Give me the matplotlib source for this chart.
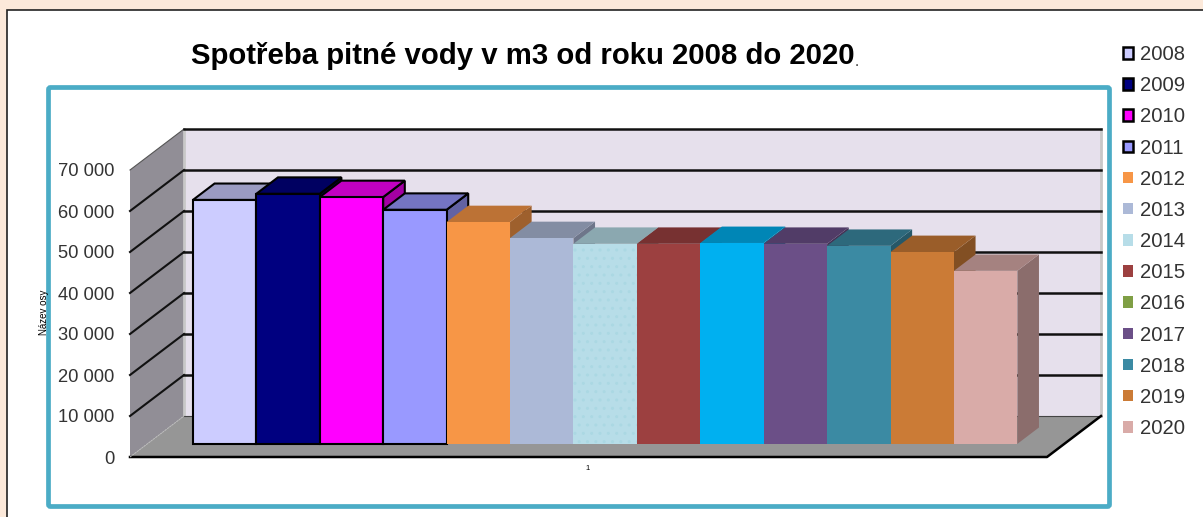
#!/usr/bin/env python3
"""Spotreba pitne vody - fake 3D column chart, old Excel look."""
import matplotlib
matplotlib.use("Agg")
import matplotlib.pyplot as plt
from matplotlib.patches import Polygon, Rectangle, FancyBboxPatch, Patch
from matplotlib.ticker import FuncFormatter

plt.rcParams["font.family"] = ["Liberation Sans", "DejaVu Sans"]

years = ["2008", "2009", "2010", "2011", "2012", "2013", "2014",
         "2015", "2016", "2017", "2018", "2019", "2020"]
values = [59500, 61000, 60200, 57100, 54100, 50200, 48800,
          48800, 49000, 48800, 48300, 46800, 42200]
bar_colors = ["#CCCCFF", "#000080", "#FF00FF", "#9999FF", "#F79646", "#ACB9D7", "#B7DDE8",
              "#9C4040", "#00B0F0", "#6B4F87", "#3B8AA3", "#CB7B36", "#D9ABA8"]
legend_colors = bar_colors[:8] + ["#7F9F45"] + bar_colors[9:]
y_ticks = [0, 10000, 20000, 30000, 40000, 50000, 60000, 70000]

W, H = 1203, 517
PX_PER_BAR = 63.4
DEPTH_X = 54 / PX_PER_BAR   # back wall offset, in bar widths
DEPTH_Y = 10000             # back wall offset, in axis units
FRONT, BACK = 0.32, 0.72    # bar depth inside the box
XMIN, XMAX = -1.22, 13.24


def proj(x, v, d):
    return (x + d * DEPTH_X, v + d * DEPTH_Y)


def shade(color, f):
    r, g, b = matplotlib.colors.to_rgb(color)
    return (r * f, g * f, b * f)


fig = plt.figure(figsize=(W / 100, H / 100), dpi=100, facecolor="#FCE9DA")

# page panel + teal frame, drawn in figure pixels
bg = fig.add_axes([0, 0, 1, 1], zorder=0)
bg.set_xlim(0, W)
bg.set_ylim(H, 0)
bg.axis("off")
bg.add_patch(Rectangle((6.5, 9.5), W + 20, H, fc="white", ec="#222222", lw=1.2))
bg.add_patch(FancyBboxPatch((48.5, 87.5), 1061, 419, boxstyle="round,pad=0,rounding_size=2",
                            fc="white", ec="#4BACC6", lw=3.4))

ax = fig.add_axes([130 / W, (H - 457) / H, 917 / W, 287 / H], zorder=1)
ax.set_xlim(XMIN, XMAX)
ax.set_ylim(0, 70000)
ax.patch.set_visible(False)
for s in ax.spines.values():
    s.set_visible(False)
ax.set_xticks([])
ax.set_yticks(y_ticks)
ax.yaxis.set_major_formatter(FuncFormatter(lambda v, _: f"{int(v):,}".replace(",", " ")))
ax.tick_params(axis="y", length=0, pad=11.5, labelsize=13.2, labelcolor="#333333")


def face(pts, **kw):
    ax.add_patch(Polygon(pts, closed=True, clip_on=False, **kw))


# box: back wall, side wall, floor
face([proj(XMIN, 0, 1), proj(XMAX, 0, 1), proj(XMAX, 70000, 1), proj(XMIN, 70000, 1)],
     fc="#E6E0EC", ec="none", zorder=1)
face([proj(XMIN, 0, 0), proj(XMIN, 0, 1), proj(XMIN, 70000, 1), proj(XMIN, 70000, 0)],
     fc="#918E96", ec="none", zorder=1)
face([proj(XMIN, 0, 0), proj(XMAX, 0, 0), proj(XMAX, 0, 1), proj(XMIN, 0, 1)],
     fc="#969696", ec="none", zorder=1.2)

# light strips at both ends of the back wall
for xe in (XMIN, XMAX):
    ax.plot(*zip(proj(xe, 0, 1), proj(xe, 70000, 1)), color="#C8C8C8", lw=2, clip_on=False, zorder=1.1)
ax.plot(*zip(proj(XMIN, 0, 1), proj(XMAX, 0, 1)), color="#444444", lw=0.8, clip_on=False, zorder=1.3)

# gridlines run across side wall and back wall
for v in y_ticks[1:]:
    side_c, side_lw = ("#555555", 0.8) if v == 70000 else ("#111111", 1.5)
    ax.plot(*zip(proj(XMIN, v, 0), proj(XMIN, v, 1)), color=side_c, lw=side_lw, clip_on=False, zorder=1.5)
    ax.plot(*zip(proj(XMIN, v, 1), proj(XMAX, v, 1)), color="#111111", lw=1.8, clip_on=False, zorder=1.5)

# floor edges
ax.plot(*zip(proj(XMIN, 0, 0), proj(XMAX, 0, 0), proj(XMAX, 0, 1)), color="black", lw=1.8,
        clip_on=False, zorder=1.6)
ax.plot(*zip(proj(XMIN, 0, 0), proj(XMIN, 0, 1)), color="#BBBBBB", lw=0.7, ls=(0, (2, 1)),
        clip_on=False, zorder=1.6)

# bars left to right so the next bar hides the side of the previous one
for i, (val, col) in enumerate(zip(values, bar_colors)):
    x0, x1 = i - 0.5, i + 0.5
    if i < 4:
        kw = dict(ec="black", lw=1.5, joinstyle="miter")
    else:
        kw = dict(ec="none")
    z = 2 + i * 0.1
    face([proj(x1, 0, FRONT), proj(x1, 0, BACK), proj(x1, val, BACK), proj(x1, val, FRONT)],
         fc=shade(col, 0.64), zorder=z, **kw)
    face([proj(x0, val, FRONT), proj(x1, val, FRONT), proj(x1, val, BACK), proj(x0, val, BACK)],
         fc=shade(col, 0.76), zorder=z, **kw)
    face([proj(x0, 0, FRONT), proj(x1, 0, FRONT), proj(x1, val, FRONT), proj(x0, val, FRONT)],
         fc=col, zorder=z + 0.01, **kw)
    if years[i] == "2014":  # faint dot pattern on this one
        face([proj(x0, 0, FRONT), proj(x1, 0, FRONT), proj(x1, val, FRONT), proj(x0, val, FRONT)],
             fc="none", ec="#ABD8E3", lw=0, hatch="..", zorder=z + 0.02)

# texts
fig.text(523 / W, 1 - 56 / H, "Spotřeba pitné vody v m3 od roku 2008 do 2020", ha="center", va="center",
         fontsize=21.2, fontweight="bold", color="black", zorder=5)
fig.text(857 / W, 1 - 66 / H, ".", ha="center", va="baseline", fontsize=11, color="#333333", zorder=5)
fig.text(588 / W, 1 - 469 / H, "1", ha="center", va="center", fontsize=5.5, color="black", zorder=5)
fig.text(44 / W, 1 - 312 / H, "Název osy", rotation=90, ha="center", va="center",
         fontsize=7, color="black", zorder=5)

handles = []
for i, (yr, col) in enumerate(zip(years, legend_colors)):
    if i < 4:
        handles.append(Patch(fc=col, ec="black", lw=1.8, label=yr))
    else:
        handles.append(Patch(fc=col, ec="none", label=yr))
fig.legend(handles=handles, loc="upper left", bbox_to_anchor=(1117 / W, 1 - 39 / H), frameon=False,
           fontsize=14.6, labelcolor="#333333", handlelength=0.5, handleheight=0.5, handletextpad=0.32,
           labelspacing=0.6, borderpad=0.3, borderaxespad=0)

fig.savefig("out.png", dpi=100, facecolor=fig.get_facecolor())
